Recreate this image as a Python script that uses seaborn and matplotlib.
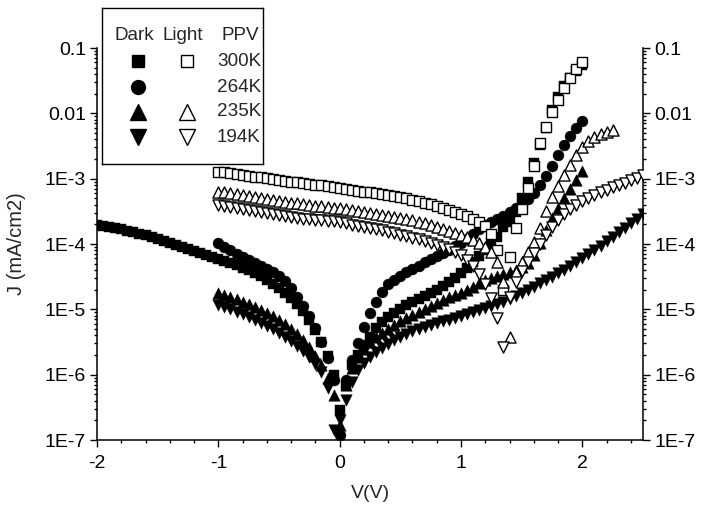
import numpy as np
import pandas as pd
import matplotlib
matplotlib.use("Agg")
import matplotlib.pyplot as plt
from matplotlib.ticker import FixedLocator, FixedFormatter, LogLocator, MultipleLocator, NullFormatter
import seaborn as sns

# ---------------------------------------------------------------------------
# J-V data of the PPV device (current density in mA/cm2), bias sweeps in 50 mV steps
# ---------------------------------------------------------------------------
sweep_step = 0.05

# dark, 300 K : -2.0 V ... 2.0 V
dark_300_range = (-2.0, 2.0)
dark_300_J = [
    1.96e-4, 1.89e-4, 1.83e-4, 1.76e-4, 1.70e-4, 1.59e-4, 1.53e-4, 1.43e-4, 1.38e-4, 1.28e-4,
    1.20e-4, 1.12e-4, 1.04e-4, 9.7e-5, 9.0e-5, 8.4e-5, 7.8e-5, 7.3e-5, 6.8e-5, 6.3e-5,
    5.9e-5, 5.5e-5, 5.1e-5, 4.8e-5, 4.3e-5, 4.0e-5, 3.6e-5, 3.25e-5, 2.8e-5, 2.45e-5,
    2.1e-5, 1.8e-5, 1.5e-5, 1.2e-5, 9.5e-6, 6.9e-6, 4.8e-6, 3.2e-6, 1.9e-6, 1.0e-6,
    2.9e-7,
    7.0e-7, 1.4e-6, 2.0e-6, 2.85e-6, 3.8e-6, 5.2e-6, 6.4e-6, 7.7e-6, 8.8e-6, 1.0e-5,
    1.17e-5, 1.3e-5, 1.44e-5, 1.6e-5, 1.8e-5, 2.0e-5, 2.3e-5, 2.6e-5, 3.0e-5, 3.6e-5,
    4.3e-5, 5.3e-5, 6.6e-5, 8.1e-5, 1.04e-4, 1.3e-4, 1.8e-4, 2.2e-4, 3.1e-4, 5.1e-4,
    8.9e-4, 1.75e-3, 3.3e-3, 6.0e-3, 1.13e-2, 1.8e-2, 2.6e-2, 3.5e-2, 4.5e-2, 5.5e-2,
]

# dark, 264 K : -1.0 V ... 2.0 V
dark_264_range = (-1.0, 2.0)
dark_264_J = [
    1.04e-4, 9.0e-5, 8.1e-5, 7.0e-5, 6.3e-5, 5.7e-5, 5.1e-5, 4.6e-5, 4.15e-5, 3.7e-5,
    3.25e-5, 2.7e-5, 2.1e-5, 1.55e-5, 1.13e-5, 7.9e-6, 5.2e-6, 3.2e-6, 1.8e-6, 8.3e-7,
    1.2e-7,
    8.3e-7, 1.7e-6, 3.1e-6, 5.4e-6, 8.8e-6, 1.3e-5, 1.85e-5, 2.4e-5, 2.8e-5, 3.25e-5,
    3.7e-5, 4.15e-5, 4.6e-5, 5.3e-5, 5.9e-5, 6.6e-5, 7.3e-5, 8.1e-5, 9.3e-5, 1.04e-4,
    1.2e-4, 1.43e-4, 1.7e-4, 1.96e-4, 2.2e-4, 2.4e-4, 2.7e-4, 3.1e-4, 3.6e-4, 4.3e-4,
    4.9e-4, 6.1e-4, 8.0e-4, 1.1e-3, 1.57e-3, 2.3e-3, 3.3e-3, 4.5e-3, 6.0e-3, 7.7e-3,
]

# dark, 235 K : -1.0 V ... 2.0 V
dark_235_range = (-1.0, 2.0)
dark_235_J = [
    1.8e-5, 1.66e-5, 1.55e-5, 1.44e-5, 1.3e-5, 1.2e-5, 1.09e-5, 9.8e-6, 8.8e-6, 7.9e-6,
    6.9e-6, 6.0e-6, 5.0e-6, 4.2e-6, 3.4e-6, 2.65e-6, 1.9e-6, 1.4e-6, 8.9e-7, 4.9e-7,
    1.7e-7,
    7.0e-7, 1.27e-6, 1.87e-6, 2.5e-6, 3.2e-6, 3.8e-6, 4.35e-6, 5.0e-6, 5.8e-6, 6.6e-6,
    7.4e-6, 8.2e-6, 9.1e-6, 1.0e-5, 1.13e-5, 1.25e-5, 1.4e-5, 1.55e-5, 1.66e-5, 1.8e-5,
    2.0e-5, 2.2e-5, 2.5e-5, 2.8e-5, 3.0e-5, 3.25e-5, 3.5e-5, 3.7e-5, 4.0e-5, 4.5e-5,
    5.1e-5, 6.8e-5, 1.04e-4, 1.65e-4, 2.5e-4, 3.6e-4, 5.1e-4, 7.0e-4, 9.6e-4, 1.3e-3,
]

# dark, 194 K : -1.0 V ... 2.5 V
dark_194_range = (-1.0, 2.5)
dark_194_J = [
    1.17e-5, 1.09e-5, 1.0e-5, 9.1e-6, 8.5e-6, 7.6e-6, 6.9e-6, 6.2e-6, 5.6e-6, 5.0e-6,
    4.35e-6, 3.8e-6, 3.3e-6, 2.75e-6, 2.3e-6, 1.87e-6, 1.46e-6, 1.1e-6, 6.25e-7, 1.4e-7,
    2.0e-7,
    4.1e-7, 7.7e-7, 1.18e-6, 1.5e-6, 1.87e-6, 2.2e-6, 2.6e-6, 2.95e-6, 3.4e-6, 3.8e-6,
    4.2e-6, 4.7e-6, 5.0e-6, 5.4e-6, 5.8e-6, 6.2e-6, 6.6e-6, 6.9e-6, 7.4e-6, 7.9e-6,
    8.5e-6, 9.1e-6, 9.8e-6, 1.05e-5, 1.13e-5, 1.2e-5, 1.3e-5, 1.44e-5, 1.6e-5, 1.8e-5,
    2.0e-5, 2.2e-5, 2.5e-5, 2.8e-5, 3.1e-5, 3.6e-5, 4.0e-5, 4.6e-5, 5.3e-5, 6.1e-5,
    7.0e-5, 8.1e-5, 9.3e-5, 1.1e-4, 1.28e-4, 1.53e-4, 1.76e-4, 2.1e-4, 2.4e-4, 2.9e-4,
]

# illuminated, 300 K : -1.0 V ... 2.0 V
light_300_range = (-1.0, 2.0)
light_300_J = [
    1.27e-3, 1.25e-3, 1.23e-3, 1.18e-3, 1.14e-3, 1.10e-3, 1.07e-3, 1.05e-3, 1.03e-3, 9.9e-4,
    9.6e-4, 9.2e-4, 8.9e-4, 8.8e-4, 8.6e-4, 8.3e-4, 8.0e-4, 7.9e-4, 7.8e-4, 7.5e-4,
    7.2e-4,
    7.0e-4, 6.7e-4, 6.5e-4, 6.3e-4, 6.2e-4, 6.1e-4, 5.85e-4, 5.65e-4, 5.45e-4, 5.3e-4,
    5.1e-4, 4.7e-4, 4.6e-4, 4.3e-4, 4.1e-4, 3.8e-4, 3.6e-4, 3.3e-4, 3.1e-4, 2.9e-4,
    2.7e-4, 2.4e-4, 2.2e-4, 1.9e-4, 1.43e-4, 8.1e-5, 2.0e-5, 6.3e-5, 1.76e-4, 3.45e-4,
    7.2e-4, 1.57e-3, 3.5e-3, 6.2e-3, 1.05e-2, 1.6e-2, 2.45e-2, 3.5e-2, 4.8e-2, 6.2e-2,
]

# illuminated, 235 K : -1.0 V ... 2.25 V
light_235_range = (-1.0, 2.25)
light_235_J = [
    6.3e-4, 6.2e-4, 6.1e-4, 5.85e-4, 5.65e-4, 5.45e-4, 5.3e-4, 5.1e-4, 4.9e-4, 4.7e-4,
    4.6e-4, 4.4e-4, 4.3e-4, 4.25e-4, 4.1e-4, 3.97e-4, 3.8e-4, 3.75e-4, 3.7e-4, 3.6e-4,
    3.55e-4,
    3.45e-4, 3.3e-4, 3.2e-4, 3.1e-4, 3.0e-4, 2.9e-4, 2.8e-4, 2.7e-4, 2.6e-4, 2.5e-4,
    2.4e-4, 2.35e-4, 2.2e-4, 2.1e-4, 1.96e-4, 1.83e-4, 1.7e-4, 1.59e-4, 1.48e-4, 1.38e-4,
    1.28e-4, 1.16e-4, 1.04e-4, 9.0e-5, 7.6e-5, 5.3e-5, 2.6e-5, 3.8e-6, 3.7e-5, 5.3e-5,
    7.6e-5, 1.08e-4, 1.76e-4, 3.2e-4, 5.3e-4, 7.8e-4, 1.14e-3, 1.63e-3, 2.3e-3, 3.07e-3,
    3.8e-3, 4.4e-3, 4.8e-3, 5.2e-3, 5.6e-3,
]

# illuminated, 194 K : -1.0 V ... 2.5 V
light_194_range = (-1.0, 2.5)
light_194_J = [
    3.97e-4, 3.8e-4, 3.7e-4, 3.6e-4, 3.45e-4, 3.3e-4, 3.2e-4, 3.1e-4, 3.0e-4, 2.9e-4,
    2.8e-4, 2.7e-4, 2.6e-4, 2.5e-4, 2.4e-4, 2.38e-4, 2.35e-4, 2.3e-4, 2.26e-4, 2.23e-4,
    2.2e-4,
    2.1e-4, 1.96e-4, 1.89e-4, 1.83e-4, 1.76e-4, 1.7e-4, 1.64e-4, 1.53e-4, 1.48e-4, 1.38e-4,
    1.33e-4, 1.24e-4, 1.2e-4, 1.12e-4, 1.04e-4, 9.7e-5, 9.0e-5, 8.4e-5, 7.6e-5, 6.8e-5,
    5.7e-5, 4.6e-5, 3.5e-5, 2.45e-5, 1.5e-5, 7.4e-6, 2.65e-6, 1.55e-5, 2.6e-5, 3.9e-5,
    5.3e-5, 7.3e-5, 1.0e-4, 1.38e-4, 1.83e-4, 2.35e-4, 2.9e-4, 3.45e-4, 3.97e-4, 4.6e-4,
    5.1e-4, 5.65e-4, 6.3e-4, 6.7e-4, 7.5e-4, 8.0e-4, 8.6e-4, 9.6e-4, 1.03e-3, 1.14e-3,
]

# axis tick labels
x_ticks = [-2, -1, 0, 1, 2]
y_ticks = [1e-7, 1e-6, 1e-5, 1e-4, 1e-3, 1e-2, 1e-1]
y_tick_labels = ["1E-7", "1E-6", "1E-5", "1E-4", "1E-3", "0.01", "0.1"]

legend_temps = ["300K", "264K", "235K", "194K"]


def sweep(rng, values):
    v = np.round(np.arange(rng[0], rng[1] + sweep_step / 2, sweep_step), 2)
    assert len(v) == len(values), (rng, len(v), len(values))
    return pd.DataFrame({"V": v, "J": values})


sns.set_theme(style="ticks")
plt.rcParams["font.family"] = ["Liberation Sans", "DejaVu Sans"]
plt.rcParams["axes.linewidth"] = 1.1

W, H = 701, 511
fig = plt.figure(figsize=(W / 100, H / 100), dpi=100)
fig.patch.set_facecolor("white")
ax = fig.add_axes([97 / W, 1 - 440 / H, 546 / W, 392 / H])
ax.set_facecolor("white")

# (data, marker, size, filled)
series = [
    (sweep(dark_300_range, dark_300_J), "s", 50, True),
    (sweep(dark_264_range, dark_264_J), "o", 62, True),
    (sweep(dark_235_range, dark_235_J), "^", 68, True),
    (sweep(dark_194_range, dark_194_J), "v", 68, True),
    (sweep(light_300_range, light_300_J), "s", 46, False),
    (sweep(light_235_range, light_235_J), "^", 64, False),
    (sweep(light_194_range, light_194_J), "v", 64, False),
]

for z, (df, mk, size, filled) in enumerate(series):
    sns.scatterplot(
        data=df, x="V", y="J", ax=ax, marker=mk, s=size,
        color="black" if filled else "white",
        edgecolor="black", linewidth=0.3 if filled else 1.0,
        zorder=3 + z, legend=False,
    )

ax.set_yscale("log")
ax.set_xlim(-2, 2.5)
ax.set_ylim(1e-7, 0.1)

ax.xaxis.set_major_locator(FixedLocator(x_ticks))
ax.xaxis.set_major_formatter(FixedFormatter([str(t) for t in x_ticks]))
ax.xaxis.set_minor_locator(MultipleLocator(0.2))
ax.yaxis.set_major_locator(FixedLocator(y_ticks))
ax.yaxis.set_major_formatter(FixedFormatter(y_tick_labels))
ax.yaxis.set_minor_locator(LogLocator(base=10, subs=np.arange(2, 10) * 1.0, numticks=30))
ax.yaxis.set_minor_formatter(NullFormatter())

ax.tick_params(axis="both", which="both", direction="out", colors="black",
               labelsize=14, width=1.0)
ax.tick_params(axis="y", which="both", left=True, right=True, labelleft=True, labelright=True)
ax.tick_params(axis="both", which="major", length=5, pad=3)
ax.tick_params(axis="x", which="major", pad=6)
ax.tick_params(axis="both", which="minor", length=2.5)
ax.spines["top"].set_visible(False)
for s in ["left", "right", "bottom"]:
    ax.spines[s].set_color("black")

ax.set_xlabel("V(V)", fontsize=14, labelpad=9)
ax.set_ylabel("J (mA/cm2)", fontsize=14.5, labelpad=13)

# legend panel: header row plus one row per temperature
lx0, lx1, ly0, ly1 = 102, 263, 8, 164
lax = fig.add_axes([lx0 / W, 1 - ly1 / H, (lx1 - lx0) / W, (ly1 - ly0) / H], zorder=10)
lax.set_xlim(lx0, lx1)
lax.set_ylim(ly1, ly0)
lax.set_xticks([])
lax.set_yticks([])
lax.set_facecolor("white")
for s in lax.spines.values():
    s.set_color("black")
    s.set_linewidth(1.0)

fs = 13.6
lax.text(115, 35.5, "Dark", ha="left", va="center", fontsize=fs)
lax.text(163, 35.5, "Light", ha="left", va="center", fontsize=fs)
lax.text(222, 35.5, "PPV", ha="left", va="center", fontsize=fs)

row_y = [61, 87, 112, 137]
dark_marks = ["s", "o", "^", "v"]
light_marks = ["s", None, "^", "v"]
for y, t, dm, lm in zip(row_y, legend_temps, dark_marks, light_marks):
    ms = 9.0 if dm == "s" else 10.0 if dm == "o" else 11.0
    lax.plot([138.3], [y], marker=dm, ms=ms, color="black", ls="none", clip_on=False)
    if lm is not None:
        lax.plot([186.7], [y], marker=lm, ms=ms, mfc="white", mec="black", mew=1.0,
                 ls="none", clip_on=False)
    lax.text(217, y, t, ha="left", va="center", fontsize=fs)

fig.savefig("out.png", dpi=100, facecolor="white")
